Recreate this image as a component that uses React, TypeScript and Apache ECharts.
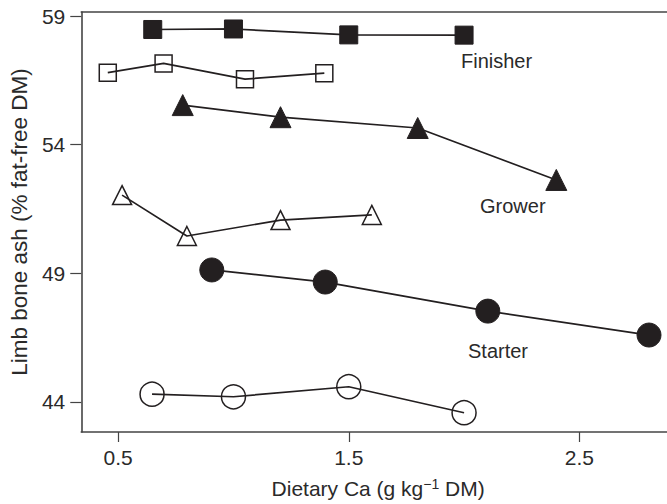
import React, { useEffect, useRef } from "react";
import * as echarts from "echarts";

const finisherFilled: [number, number][] = [[0.65, 58.48], [1.0, 58.5], [1.5, 58.27], [2.0, 58.26]];
const finisherOpen: [number, number][] = [[0.455, 56.8], [0.697, 57.16], [1.05, 56.55], [1.394, 56.78]];
const growerFilled: [number, number][] = [[0.78, 55.54], [1.204, 55.07], [1.799, 54.65], [2.4, 52.63]];
const growerOpen: [number, number][] = [[0.517, 52.04], [0.798, 50.45], [1.204, 51.07], [1.6, 51.27]];
const starterFilled: [number, number][] = [[0.906, 49.13], [1.398, 48.66], [2.103, 47.53], [2.802, 46.6]];
const starterOpen: [number, number][] = [[0.647, 44.3], [1.0, 44.2], [1.5, 44.59], [2.0, 43.58]];

const xTicks = [0.5, 1.5, 2.5];
const yTicks = [44, 49, 54, 59];
const groupLabels = ["Finisher", "Grower", "Starter"];

const FONT = "Liberation Sans, Arial, Helvetica, sans-serif";
const INK = "#231f20";
const TXT = "#2a2a2a";

export default function App() {
  const ref = useRef<HTMLDivElement>(null);
  useEffect(() => {
    if (!ref.current) return;
    const chart = echarts.init(ref.current, undefined, { renderer: "svg" });
    const mk = (data: [number, number][], symbol: string, size: number, filled: boolean) => ({
      type: "line",
      data,
      symbol,
      symbolSize: size,
      showAllSymbol: true,
      lineStyle: { color: INK, width: 1.7 },
      itemStyle: filled
        ? { color: INK, borderColor: INK, borderWidth: 1 }
        : { color: "rgba(255,255,255,0)", borderColor: INK, borderWidth: 1.5 },
      z: 3,
    });
    const label = (text: string, left: number, top: number) => ({
      type: "text",
      left,
      top,
      style: { text, fill: TXT, font: `20px ${FONT}` },
    });
    chart.setOption({
      animation: false,
      backgroundColor: "#ffffff",
      grid: { left: 79, top: 12, right: 0, bottom: 72 },
      xAxis: [
        {
          type: "value",
          min: 0.34,
          max: 2.88,
          splitLine: { show: false },
          axisLine: { show: true, lineStyle: { color: "#444", width: 1.6 } },
          axisTick: { show: true, length: 10, customValues: xTicks, lineStyle: { color: "#444", width: 1.2 } },
          axisLabel: {
            customValues: xTicks,
            formatter: (v: number) => v.toFixed(1),
            fontSize: 21,
            color: TXT,
            fontFamily: FONT,
            margin: 15,
          },
          name: "Dietary Ca (g kg{sup|−1} DM)",
          nameLocation: "middle",
          nameGap: 45,
          nameTextStyle: {
            fontSize: 21,
            color: TXT,
            fontFamily: FONT,
            padding: [0, 0, 0, 8],
            rich: { sup: { fontSize: 14, padding: [0, 0, 9, 0], fontFamily: FONT, color: TXT } },
          },
        },
        {
          type: "value",
          position: "top",
          min: 0.34,
          max: 2.88,
          splitLine: { show: false },
          axisLine: { show: true, lineStyle: { color: "#444", width: 1.6 } },
          axisTick: { show: false },
          axisLabel: { show: false },
        },
      ],
      yAxis: {
        type: "value",
        min: 42.83,
        max: 59.16,
        splitLine: { show: false },
        axisLine: { show: true, lineStyle: { color: "#444", width: 1.6 } },
        axisTick: { show: true, length: 11, customValues: yTicks, lineStyle: { color: "#444", width: 1.2 } },
        axisLabel: {
          customValues: yTicks,
          fontSize: 21,
          color: TXT,
          fontFamily: FONT,
          margin: 16,
        },
        name: "Limb bone ash (% fat-free DM)",
        nameLocation: "middle",
        nameGap: 49,
        nameTextStyle: { fontSize: 22.5, color: TXT, fontFamily: FONT },
      },
      graphic: [
        label(groupLabels[0], 461, 51),
        label(groupLabels[1], 480, 196),
        label(groupLabels[2], 468, 341),
      ],
      series: [
        mk(finisherFilled, "rect", 18, true),
        mk(finisherOpen, "rect", 17, false),
        mk(growerFilled, "triangle", 21, true),
        mk(growerOpen, "triangle", 19, false),
        mk(starterFilled, "circle", 24, true),
        mk(starterOpen, "circle", 24, false),
      ],
    });
    return () => chart.dispose();
  }, []);
  return <div ref={ref} style={{ position: "fixed", left: 0, top: 0, width: 667, height: 504 }} />;
}
